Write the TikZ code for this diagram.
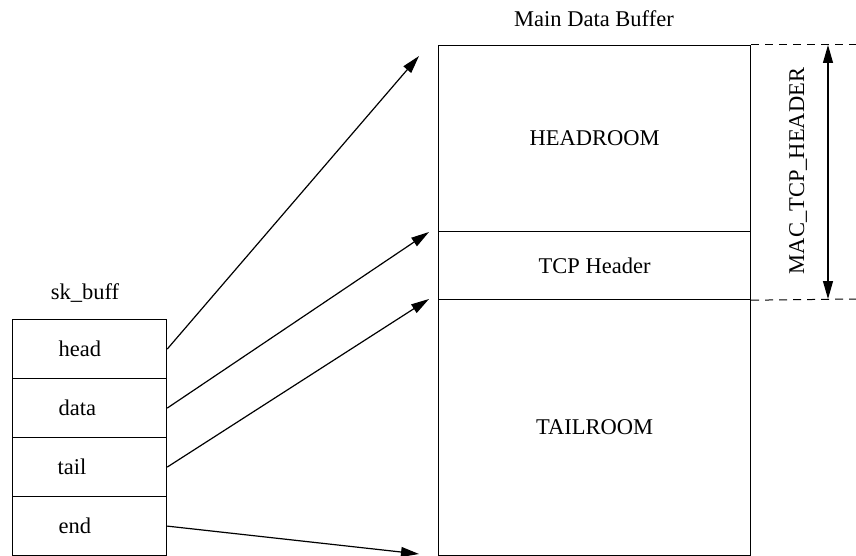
\documentclass[tikz,border=0pt]{standalone}
\usepackage{fontspec}
\setmainfont{Liberation Serif}
\usetikzlibrary{arrows.meta}
\begin{document}
\begin{tikzpicture}[x=1pt,y=-1pt,
  line width=1.2pt,
  every node/.style={font=\fontsize{22.5}{26}\selectfont},
  cell/.style={draw, rectangle, inner sep=0pt, minimum width=154pt, minimum height=59pt, anchor=north west},
  region/.style={draw, rectangle, inner sep=0pt, minimum width=312pt, anchor=north west},
  field/.style={anchor=west, inner sep=0pt},
  ptr/.style={-{Triangle[length=18pt,width=10pt]}},
  guide/.style={dashed, dash pattern=on 8pt off 6pt, line width=1pt}
]
\useasboundingbox (0,0) rectangle (856,556);

% sk_buff structure
\node (title) at (85,293) {sk\_buff};
\node[cell] (head) at (12,319) {};
\node[cell] (data) at (12,378) {};
\node[cell] (tail) at (12,437) {};
\node[cell] (end)  at (12,496) {};
\node[field] (headtxt) at ([xshift=46pt]head.west) {head};
\node[field] (datatxt) at ([xshift=46pt]data.west) {data};
\node[field] (tailtxt) at ([xshift=45pt]tail.west) {tail};
\node[field] (endtxt)  at ([xshift=46pt]end.west) {end};

% main data buffer
\node (buftitle) at (594,19) {Main Data Buffer};
\node[region, minimum height=186pt] (headroom) at (438,45) {};
\node[region, minimum height=68pt]  (tcp)      at (438,231) {};
\node[region, minimum height=256pt] (tailroom) at (438,299) {};
\node (headroomtxt) at (headroom.center) {HEADROOM};
\node (tcptxt)      at (tcp.center) {TCP Header};
\node (tailroomtxt) at (tailroom.center) {TAILROOM};

% pointer targets
\coordinate (phead) at (419,56);
\coordinate (pdata) at (429,232);
\coordinate (ptail) at (429,299);
\coordinate (pend)  at (419,554);

\draw[ptr] (head.east) -- (phead);
\draw[ptr] (data.east) -- (pdata);
\draw[ptr] (tail.east) -- (ptail);
\draw[ptr] (end.east)  -- (pend);

% MAC_TCP_HEADER extent
\coordinate (gtop) at (856,45);
\coordinate (gbot) at (856,299);
\coordinate (dtop) at (828,45);
\coordinate (dbot) at (828,299);
\draw[guide] (headroom.north east) -- (gtop);
\draw[guide] (tcp.south east) -- (gbot);
\draw[{Triangle[length=18pt,width=10pt]}-{Triangle[length=18pt,width=10pt]}] (dtop) -- (dbot);
\node[rotate=90] (dimtxt) at (798,171) {MAC\_TCP\_HEADER};
\end{tikzpicture}
\end{document}
